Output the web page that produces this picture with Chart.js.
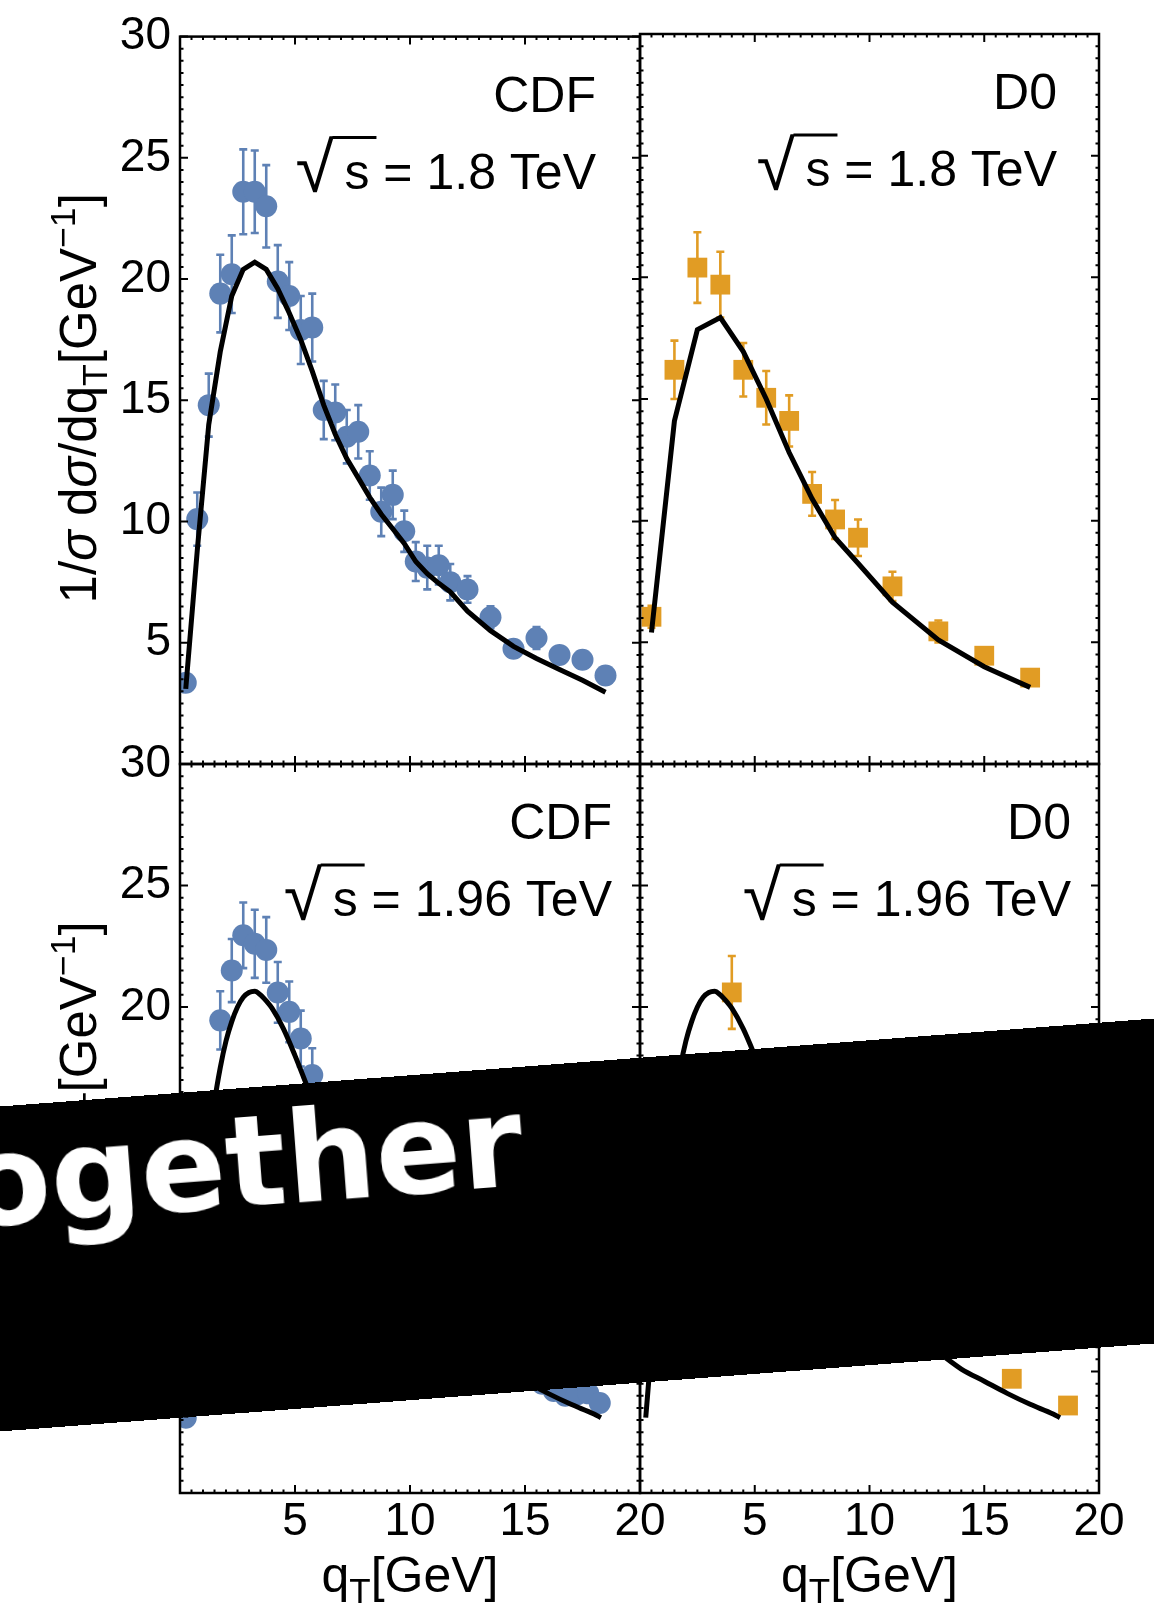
<!DOCTYPE html>
<html>
<head>
<meta charset="utf-8">
<title>qT distributions, CDF and D0</title>
<script src="https://cdn.jsdelivr.net/npm/chart.js@4.4.1/dist/chart.umd.min.js"></script>
<style>
  html, body { margin: 0; padding: 0; background: #fff; }
  #page { position: relative; width: 1154px; height: 1606px; overflow: hidden; background: #fff; }
  #page canvas { position: absolute; left: 0; top: 0; }
  #band {
    position: absolute; left: -223px; top: 1063px; width: 1600px; height: 324px;
    background: #000; transform-origin: 800px 162px; transform: rotate(-4.36deg);
  }
  #band span {
    position: absolute; left: 192px; top: 12px; color: #fff;
    font: bold 126px "DejaVu Sans", sans-serif; line-height: 1; white-space: nowrap;
  }
</style>
</head>
<body>
<div id="page">
  <canvas id="tl" width="1154" height="1606"></canvas>
  <canvas id="tr" width="1154" height="1606"></canvas>
  <canvas id="bl" width="1154" height="1606"></canvas>
  <canvas id="br" width="1154" height="1606"></canvas>
  <div id="band"><span>ogether</span></div>
</div>
<script>
/* ==================================================================
   qT spectra of Z bosons at the Tevatron, data vs. theory curve
   ================================================================== */

// --- Axes ---
const xTickValues = [0, 5, 10, 15, 20];
const xTickLabels = ['', '5', '10', '15', '20'];
const yTickValues = [0, 5, 10, 15, 20, 25, 30];
const yTickLabels = ['', '5', '10', '15', '20', '25', '30'];

// --- CDF, sqrt(s) = 1.8 TeV ---
const cdf18Qt  = [0.25, 0.75, 1.25, 1.75, 2.25, 2.75, 3.25, 3.75, 4.25, 4.75, 5.25, 5.75, 6.25, 6.75, 7.25, 7.75,
                  8.25, 8.75, 9.25, 9.75, 10.25, 10.75, 11.25, 11.75, 12.5, 13.5, 14.5, 15.5, 16.5, 17.5, 18.5];
const cdf18Val = [3.35, 10.1, 14.8, 19.4, 20.2, 23.6, 23.6, 23.0, 19.9, 19.3, 17.9, 18.0, 14.6, 14.5, 13.5, 13.7,
                  11.9, 10.4, 11.1, 9.6, 8.35, 8.1, 8.2, 7.5, 7.2, 6.05, 4.75, 5.2, 4.5, 4.3, 3.65];
const cdf18Err = [0.35, 1.1, 1.3, 1.6, 1.6, 1.75, 1.7, 1.7, 1.5, 1.4, 1.4, 1.4, 1.2, 1.15, 1.1, 1.1,
                  1.0, 1.0, 1.0, 0.85, 0.8, 0.9, 0.8, 0.75, 0.55, 0.45, 0.3, 0.45, 0.3, 0.3, 0.3];
const cdf18Fit = [3.1, 8.8, 14.0, 17.0, 19.3, 20.4, 20.7, 20.4, 19.6, 18.6, 17.5, 16.2, 14.8, 13.6, 12.6, 11.8,
                  11.0, 10.3, 9.7, 9.1, 8.35, 7.85, 7.45, 7.1, 6.3, 5.5, 4.85, 4.35, 3.9, 3.45, 2.96];

// --- D0, sqrt(s) = 1.8 TeV ---
const d018Qt  = [0.5, 1.5, 2.5, 3.5, 4.5, 5.5, 6.5, 7.5, 8.5, 9.5, 11, 13, 15, 17];
const d018Val = [6.05, 16.2, 20.4, 19.7, 16.2, 15.05, 14.1, 11.1, 10.05, 9.3, 7.3, 5.45, 4.45, 3.55];
const d018Err = [0.45, 1.2, 1.45, 1.35, 1.1, 1.1, 1.05, 0.9, 0.8, 0.75, 0.6, 0.45, 0.35, 0.25];
const d018Fit = [5.4, 14.1, 17.85, 18.35, 16.95, 15.0, 12.8, 10.9, 9.3, 8.25, 6.65, 5.1, 4.0, 3.15];

// --- CDF, sqrt(s) = 1.96 TeV ---
const cdf196Qt  = [0.25, 0.75, 1.25, 1.75, 2.25, 2.75, 3.25, 3.75, 4.25, 4.75, 5.25, 5.75, 6.25, 6.75, 7.25, 7.75,
                   8.25, 8.75, 9.25, 9.75, 10.25, 10.75, 11.25, 11.75, 12.25, 12.75, 13.25, 13.75, 14.25, 14.75,
                   15.25, 15.75, 16.25, 16.75, 17.25, 17.75, 18.25];
const cdf196Val = [3.1, 10.6, 15.0, 19.45, 21.5, 22.95, 22.6, 22.35, 20.6, 19.8, 18.7, 17.2, 15.3, 14.3, 13.4, 12.6,
                   11.8, 11.0, 10.3, 9.7, 9.1, 8.6, 8.1, 7.7, 7.3, 6.9, 6.5, 6.1, 5.8, 5.5,
                   5.1, 4.5, 4.2, 4.0, 4.05, 4.1, 3.7];
const cdf196Err = [0.3, 0.9, 1.1, 1.2, 1.3, 1.35, 1.4, 1.35, 1.25, 1.25, 1.15, 1.1, 1.0, 0.95, 0.9, 0.85,
                   0.8, 0.75, 0.7, 0.65, 0.6, 0.55, 0.5, 0.5, 0.45, 0.45, 0.4, 0.4, 0.35, 0.35,
                   0.3, 0.3, 0.3, 0.3, 0.3, 0.3, 0.3];

// --- D0, sqrt(s) = 1.96 TeV ---
const d0196Qt  = [1.55, 4.0, 6.45, 8.85, 11.3, 13.75, 16.2, 18.65];
const d0196Val = [16.0, 20.6, 15.0, 11.4, 8.3, 6.4, 4.7, 3.6];
const d0196Err = [1.2, 1.5, 1.0, 0.8, 0.6, 0.45, 0.3, 0.25];

// --- theory curve at sqrt(s) = 1.96 TeV (both lower panels) ---
const fit196Qt  = [0.25, 0.5, 0.75, 1.0, 1.25, 1.5, 1.75, 2.0, 2.25, 2.5, 2.75, 3.0, 3.25, 3.5, 3.75, 4.0, 4.5, 5.0,
                   5.5, 6, 6.5, 7, 7.5, 8, 8.5, 9, 9.5, 10, 11, 12, 13, 14, 15, 16, 17, 18, 18.3];
const fit196Val = [3.1, 6.0, 9.0, 11.8, 14.2, 16.1, 17.5, 18.6, 19.4, 20.0, 20.4, 20.6, 20.65, 20.5, 20.25, 19.95, 19.1, 18.0,
                   16.8, 15.6, 14.4, 13.3, 12.3, 11.4, 10.6, 9.9, 9.2, 8.6, 7.5, 6.6, 5.8, 5.1, 4.6, 4.1, 3.65, 3.25, 3.1];

const FONT = '"Liberation Sans", Arial, Helvetica, sans-serif';
const BLUE = '#5E81B5';
const ORANGE = '#E19C24';
const PAGE_W = 1154, PAGE_H = 1606;

function xy(xs, ys) {
    return xs.map((x, i) => ({ x: x, y: ys[i] }));
}

// draw a run of text pieces (sub/superscripts, italics) on one baseline
function drawRuns(ctx, runs, x, y, align, size) {
    const parts = runs.map(r => {
        const fs = (r.sub || r.sup) ? size * 0.7 : size;
        const font = (r.italic ? 'italic ' : '') + fs + 'px ' + FONT;
        ctx.font = font;
        return { t: r.t, font: font, w: ctx.measureText(r.t).width,
                 dy: r.sub ? size * 0.22 : (r.sup ? -size * 0.42 : 0) };
    });
    const total = parts.reduce((s, p) => s + p.w, 0);
    let cx = align === 'center' ? x - total / 2 : (align === 'right' ? x - total : x);
    ctx.textAlign = 'left';
    ctx.textBaseline = 'alphabetic';
    parts.forEach(p => {
        ctx.font = p.font;
        ctx.fillText(p.t, cx, y + p.dy);
        cx += p.w;
    });
}

// "√s = ... TeV", right aligned
function drawEnergy(ctx, rightX, baseY, size, value) {
    const text = 's = ' + value + ' TeV';
    ctx.font = size + 'px ' + FONT;
    ctx.textAlign = 'left';
    ctx.textBaseline = 'alphabetic';
    const sW = ctx.measureText('s').width;
    const sX = rightX - ctx.measureText(text).width;
    ctx.fillText(text, sX, baseY);

    const top = baseY - size * 1.05;
    let m = ctx.measureText('√');
    const h = m.actualBoundingBoxAscent + m.actualBoundingBoxDescent;
    const rs = size * (size * 1.15) / h;
    ctx.font = rs + 'px ' + FONT;
    m = ctx.measureText('√');
    const gx = sX - size * 0.2 - m.actualBoundingBoxRight;
    const gy = top + m.actualBoundingBoxAscent;
    ctx.fillText('√', gx, gy);

    ctx.lineWidth = 3;
    ctx.beginPath();
    ctx.moveTo(sX - size * 0.24, top + 1.5);
    ctx.lineTo(sX + sW + size * 0.14, top + 1.5);
    ctx.stroke();
}

// --- Plugins ---
const errorBars = {
    id: 'errorBars',
    beforeDatasetsDraw(chart) {
        const { ctx, chartArea: a, scales: { x, y } } = chart;
        ctx.save();
        ctx.beginPath();
        ctx.rect(a.left, a.top, a.width, a.height);
        ctx.clip();
        chart.data.datasets.forEach(ds => {
            if (!ds.errors) return;
            ctx.strokeStyle = ds.backgroundColor;
            ctx.lineWidth = 2.6;
            ds.data.forEach((pt, i) => {
                const e = ds.errors[i];
                const px = x.getPixelForValue(pt.x);
                const y1 = y.getPixelForValue(pt.y + e);
                const y2 = y.getPixelForValue(pt.y - e);
                ctx.beginPath();
                ctx.moveTo(px, y1); ctx.lineTo(px, y2);
                ctx.moveTo(px - 4, y1); ctx.lineTo(px + 4, y1);
                ctx.moveTo(px - 4, y2); ctx.lineTo(px + 4, y2);
                ctx.stroke();
            });
        });
        ctx.restore();
    }
};

// Mathematica-like frame: ticks inside on all four sides
const frame = {
    id: 'frame',
    afterDraw(chart) {
        const { ctx, chartArea: a, scales: { x, y } } = chart;
        ctx.save();
        ctx.strokeStyle = '#000';
        ctx.lineWidth = 2;
        ctx.beginPath();
        for (let v = x.min; v <= x.max + 1e-9; v += 0.5) {
            const px = x.getPixelForValue(v);
            const len = xTickValues.includes(v) ? 8 : 3.5;
            ctx.moveTo(px, a.bottom); ctx.lineTo(px, a.bottom - len);
            ctx.moveTo(px, a.top); ctx.lineTo(px, a.top + len);
        }
        for (let v = y.min; v <= y.max + 1e-9; v += 0.5) {
            const py = y.getPixelForValue(v);
            const len = yTickValues.includes(v) ? 8 : 3.5;
            ctx.moveTo(a.left, py); ctx.lineTo(a.left + len, py);
            ctx.moveTo(a.right, py); ctx.lineTo(a.right - len, py);
        }
        ctx.stroke();
        ctx.lineWidth = 2.5;
        ctx.strokeRect(a.left, a.top, a.width, a.height);
        ctx.restore();
    }
};

const panelText = {
    id: 'panelText',
    afterDraw(chart, args, opts) {
        const { ctx, chartArea: a } = chart;
        ctx.save();
        ctx.fillStyle = '#000';
        ctx.strokeStyle = '#000';
        const rx = a.right - opts.inset;
        ctx.font = '50px ' + FONT;
        ctx.textAlign = 'right';
        ctx.textBaseline = 'alphabetic';
        ctx.fillText(opts.label, rx, a.top + 75);
        drawEnergy(ctx, rx, a.top + 152, 50, opts.energy);

        if (opts.yTitle) {
            ctx.save();
            ctx.translate(a.left - 84, (a.top + a.bottom) / 2 - 2);
            ctx.rotate(-Math.PI / 2);
            drawRuns(ctx, [
                { t: '1/' }, { t: 'σ', italic: true }, { t: ' d' }, { t: 'σ', italic: true },
                { t: '/dq' }, { t: 'T', sub: true }, { t: '[GeV' }, { t: '−1', sup: true }, { t: ']' }
            ], 0, 0, 'center', 51);
            ctx.restore();
        }
        if (opts.xTitle) {
            drawRuns(ctx, [{ t: 'q' }, { t: 'T', sub: true }, { t: '[GeV]' }],
                     (a.left + a.right) / 2, a.bottom + 99, 'center', 50);
        }
        ctx.restore();
    }
};

// --- Panels ---
function makePanel(id, p) {
    const yShown = p.yLabels, xShown = p.xLabels;
    const datasets = [
        {
            type: 'line',
            data: xy(p.fitQt, p.fitVal),
            borderColor: '#000',
            borderWidth: 5,
            pointRadius: 0,
            fill: false,
            tension: 0,
            cubicInterpolationMode: p.smooth ? 'monotone' : 'default',
            order: 0,
            clip: 0
        },
        {
            type: 'scatter',
            data: xy(p.qt, p.val),
            errors: p.err,
            backgroundColor: p.color,
            borderWidth: 0,
            pointStyle: p.marker,
            pointRadius: p.radius,
            pointHoverRadius: p.radius,
            order: 1,
            clip: 0
        }
    ];

    new Chart(document.getElementById(id), {
        type: 'scatter',
        data: { datasets: datasets },
        options: {
            responsive: false,
            animation: false,
            events: [],
            layout: {
                padding: {
                    left: yShown ? 0 : p.area.left,
                    top: p.area.top,
                    right: PAGE_W - p.area.right,
                    bottom: PAGE_H - p.area.bottom - (xShown ? 60 : 0)
                }
            },
            plugins: {
                legend: { display: false },
                tooltip: { enabled: false },
                panelText: { label: p.label, energy: p.energy, inset: p.inset, yTitle: yShown, xTitle: xShown }
            },
            scales: {
                x: {
                    type: 'linear', min: 0, max: 20, display: xShown,
                    afterBuildTicks: s => { s.ticks = xTickValues.map(v => ({ value: v })); },
                    afterFit: s => { s.height = xShown ? 60 : 0; },
                    grid: { display: false, drawTicks: false },
                    border: { display: false },
                    ticks: {
                        color: '#000', padding: 2, maxRotation: 0, autoSkip: false,
                        font: { family: FONT, size: 46 },
                        callback: (v, i) => xTickLabels[i]
                    }
                },
                y: {
                    type: 'linear', min: 0, max: 30, display: yShown,
                    afterBuildTicks: s => { s.ticks = yTickValues.map(v => ({ value: v })); },
                    afterFit: s => { s.width = yShown ? p.area.left : 0; },
                    grid: { display: false, drawTicks: false },
                    border: { display: false },
                    ticks: {
                        color: '#000', padding: 9,
                        font: { family: FONT, size: 46 },
                        callback: (v, i) => yTickLabels[i]
                    }
                }
            }
        },
        plugins: [errorBars, frame, panelText]
    });
}

makePanel('tl', {
    area: { left: 180, top: 34, right: 640, bottom: 764 }, yLabels: true, xLabels: false,
    qt: cdf18Qt, val: cdf18Val, err: cdf18Err, fitQt: cdf18Qt, fitVal: cdf18Fit, smooth: false,
    color: BLUE, marker: 'circle', radius: 11, label: 'CDF', energy: '1.8', inset: 44
});
makePanel('tr', {
    area: { left: 640, top: 34, right: 1099, bottom: 764 }, yLabels: false, xLabels: false,
    qt: d018Qt, val: d018Val, err: d018Err, fitQt: d018Qt, fitVal: d018Fit, smooth: false,
    color: ORANGE, marker: 'rect', radius: 14, label: 'D0', energy: '1.8', inset: 42
});
makePanel('bl', {
    area: { left: 180, top: 764, right: 640, bottom: 1493 }, yLabels: true, xLabels: true,
    qt: cdf196Qt, val: cdf196Val, err: cdf196Err, fitQt: fit196Qt, fitVal: fit196Val, smooth: true,
    color: BLUE, marker: 'circle', radius: 11, label: 'CDF', energy: '1.96', inset: 28
});
makePanel('br', {
    area: { left: 640, top: 764, right: 1099, bottom: 1493 }, yLabels: false, xLabels: true,
    qt: d0196Qt, val: d0196Val, err: d0196Err, fitQt: fit196Qt, fitVal: fit196Val, smooth: true,
    color: ORANGE, marker: 'rect', radius: 14, label: 'D0', energy: '1.96', inset: 28
});
</script>
</body>
</html>
